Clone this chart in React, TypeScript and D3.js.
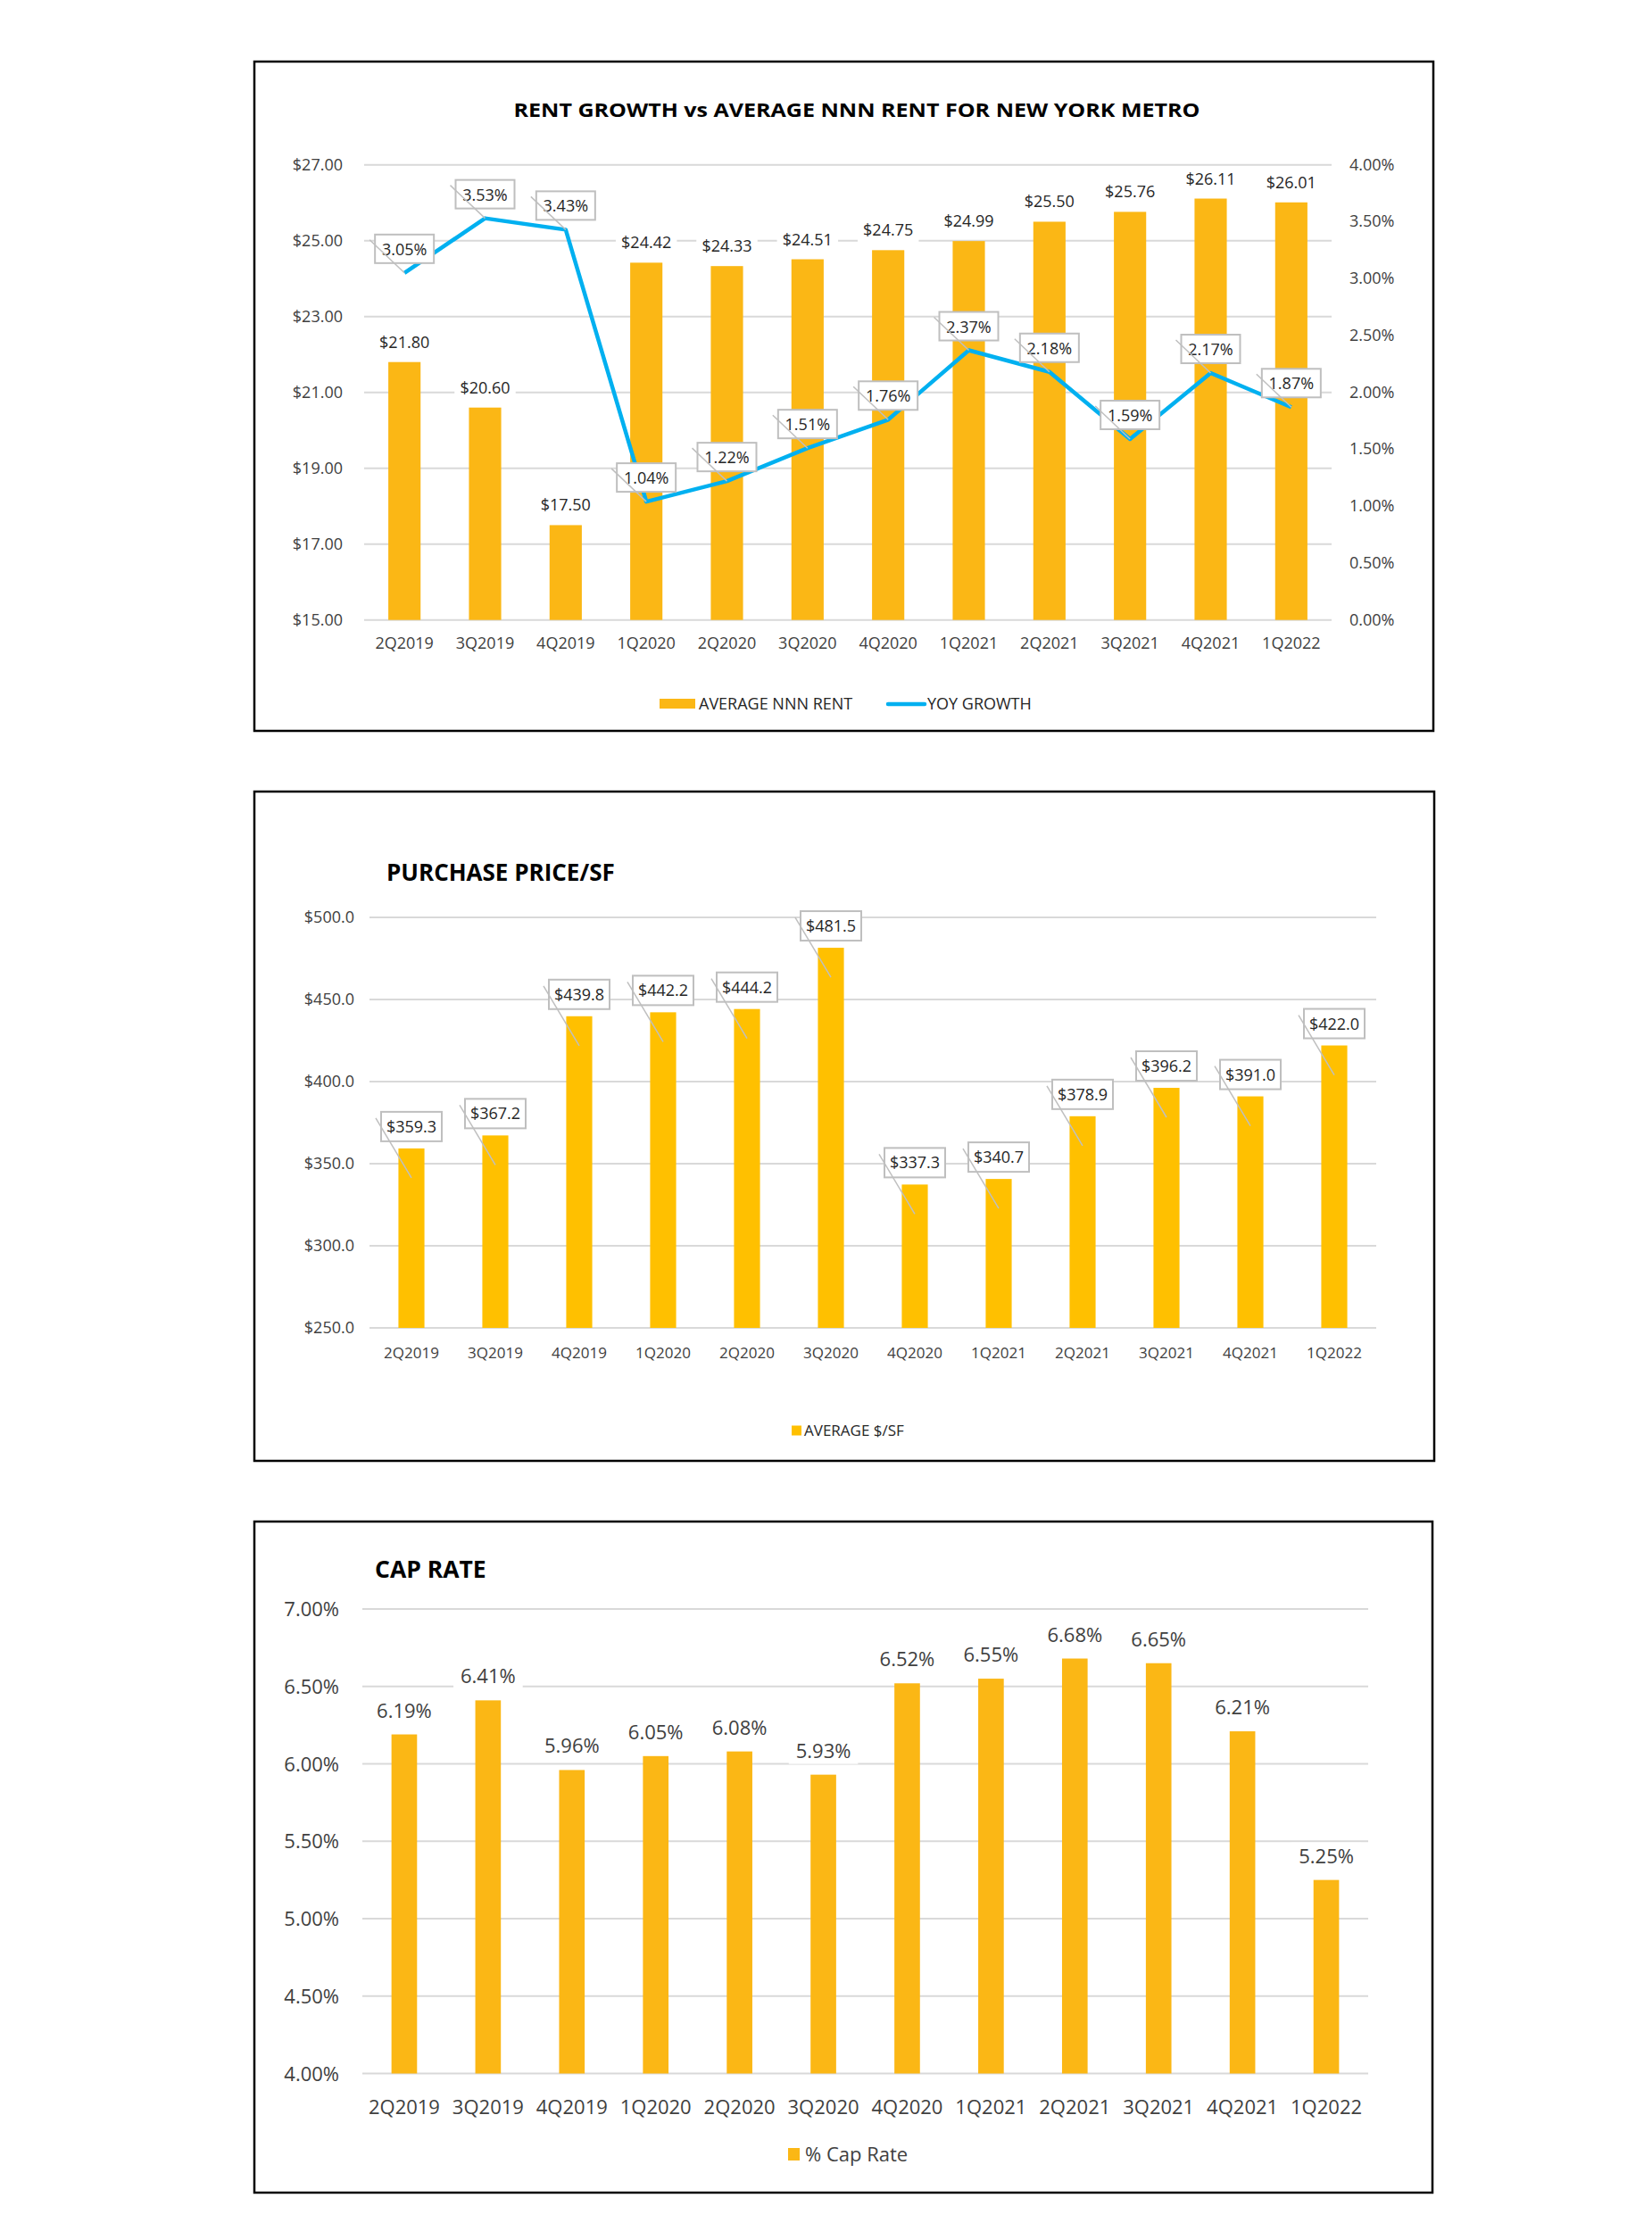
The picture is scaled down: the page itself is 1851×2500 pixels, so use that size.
import React from 'react'
import * as d3 from 'd3'

const quarters = ['2Q2019', '3Q2019', '4Q2019', '1Q2020', '2Q2020', '3Q2020', '4Q2020', '1Q2021', '2Q2021', '3Q2021', '4Q2021', '1Q2022']

const nnnRent = [21.8, 20.6, 17.5, 24.42, 24.33, 24.51, 24.75, 24.99, 25.5, 25.76, 26.11, 26.01]
const yoyGrowth = [3.05, 3.53, 3.43, 1.04, 1.22, 1.51, 1.76, 2.37, 2.18, 1.59, 2.17, 1.87]
const pricePerSf = [359.3, 367.2, 439.8, 442.2, 444.2, 481.5, 337.3, 340.7, 378.9, 396.2, 391.0, 422.0]
const capRate = [6.19, 6.41, 5.96, 6.05, 6.08, 5.93, 6.52, 6.55, 6.68, 6.65, 6.21, 5.25]

const rentTicks = [15, 17, 19, 21, 23, 25, 27]
const growthTicks = [0, 0.5, 1, 1.5, 2, 2.5, 3, 3.5, 4]
const priceTicks = [250, 300, 350, 400, 450, 500]
const capTicks = [4, 4.5, 5, 5.5, 6, 6.5, 7]

const FONT = '"Open Sans", "Noto Sans", sans-serif'
const GOLD = '#FBB715'
const YELLOW = '#FFC000'
const BLUE = '#00B0F0'
const GRID = '#D9D9D9'
const TICK = '#404040'
const LABEL = '#262626'
const BOX = '#BFBFBF'

// rough text width for the white label backgrounds
const textWidth = (s: string, size: number) => s.length * size * 0.56

const Frame = ({ x, y, w, h }: { x: number; y: number; w: number; h: number }) => (
  <rect x={x} y={y} width={w} height={h} fill="white" stroke="#000" strokeWidth={2.5} />
)

const RentChart = () => {
  const x = d3.scaleBand().domain(quarters).range([408, 1492]).paddingInner(0.6).paddingOuter(0.3)
  const yL = d3.scaleLinear().domain([15, 27]).range([694.7, 184.7])
  const yR = d3.scaleLinear().domain([0, 4]).range([694.7, 184.7])
  const cx = (q: string) => (x(q) as number) + x.bandwidth() / 2

  const line = d3.line<number>()
    .x((_, i) => cx(quarters[i]))
    .y(d => yR(d))

  return (
    <g>
      <Frame x={285} y={69} w={1321} h={750} />
      <text x={960} y={131} textAnchor="middle" fontSize={22} fontWeight="bold" fill="#000" textLength={769} lengthAdjust="spacingAndGlyphs">
        RENT GROWTH vs AVERAGE NNN RENT FOR NEW YORK METRO
      </text>
      {rentTicks.map(t => (
        <g key={t}>
          <line x1={408} x2={1492} y1={yL(t)} y2={yL(t)} stroke={GRID} strokeWidth={2} />
          <text x={384} y={yL(t) + 6} textAnchor="end" fontSize={18} fill={TICK}>{`$${t.toFixed(2)}`}</text>
        </g>
      ))}
      {growthTicks.map(t => (
        <text key={t} x={1512} y={yR(t) + 6} fontSize={18} fill={TICK}>{`${t.toFixed(2)}%`}</text>
      ))}
      {nnnRent.map((v, i) => (
        <rect key={i} x={x(quarters[i])} y={yL(v)} width={x.bandwidth()} height={yL(15) - yL(v)} fill={GOLD} />
      ))}
      {nnnRent.map((v, i) => {
        const s = `$${v.toFixed(2)}`
        const w = textWidth(s, 18) + 8
        return (
          <g key={i}>
            <rect x={cx(quarters[i]) - w / 2} y={yL(v) - 33} width={w} height={24} fill="white" />
            <text x={cx(quarters[i])} y={yL(v) - 16} textAnchor="middle" fontSize={18} fill={LABEL}>{s}</text>
          </g>
        )
      })}
      <path d={line(yoyGrowth) || ''} fill="none" stroke={BLUE} strokeWidth={4.5} strokeLinejoin="round" />
      {yoyGrowth.map((v, i) => {
        const px = cx(quarters[i])
        const py = yR(v)
        const bw = 66
        const bh = 32
        const bx = px - bw / 2
        const by = py - 27 - bh / 2
        return (
          <g key={i}>
            <rect x={bx} y={by} width={bw} height={bh} fill="white" stroke={BOX} strokeWidth={2} />
            <text x={px} y={by + 23} textAnchor="middle" fontSize={18} fill={LABEL}>{`${v.toFixed(2)}%`}</text>
            <line x1={bx - 6} y1={by + 6} x2={px} y2={py} stroke={BOX} strokeWidth={1.5} />
          </g>
        )
      })}
      {quarters.map(q => (
        <text key={q} x={cx(q)} y={727} textAnchor="middle" fontSize={18} fill={TICK}>{q}</text>
      ))}
      <rect x={739} y={783} width={40} height={11} fill={GOLD} />
      <text x={783} y={795} fontSize={18} fill={LABEL}>AVERAGE NNN RENT</text>
      <line x1={995} x2={1036} y1={789} y2={789} stroke={BLUE} strokeWidth={4.5} strokeLinecap="round" />
      <text x={1039} y={795} fontSize={18} fill={LABEL}>YOY GROWTH</text>
    </g>
  )
}

const PriceChart = () => {
  const x = d3.scaleBand().domain(quarters).range([414, 1542]).paddingInner(0.69).paddingOuter(0.345)
  const y = d3.scaleLinear().domain([250, 500]).range([1488, 1028])
  const cx = (q: string) => (x(q) as number) + x.bandwidth() / 2

  return (
    <g>
      <Frame x={285} y={887} w={1322} h={750} />
      <text x={433} y={987} fontSize={26} fontWeight="bold" fill="#000">PURCHASE PRICE/SF</text>
      {priceTicks.map(t => (
        <g key={t}>
          <line x1={414} x2={1542} y1={y(t)} y2={y(t)} stroke={GRID} strokeWidth={2} />
          <text x={397} y={y(t) + 6} textAnchor="end" fontSize={18} fill={TICK}>{`$${t.toFixed(1)}`}</text>
        </g>
      ))}
      {pricePerSf.map((v, i) => (
        <rect key={i} x={x(quarters[i])} y={y(v)} width={x.bandwidth()} height={y(250) - y(v)} fill={YELLOW} />
      ))}
      {pricePerSf.map((v, i) => {
        const px = cx(quarters[i])
        const top = y(v)
        const bw = 68
        const bh = 33
        const bx = px - bw / 2
        const by = top - 8 - bh
        return (
          <g key={i}>
            <rect x={bx} y={by} width={bw} height={bh} fill="white" stroke={BOX} strokeWidth={2} />
            <text x={px} y={by + 23} textAnchor="middle" fontSize={18} fill={LABEL}>{`$${v.toFixed(1)}`}</text>
            <line x1={bx - 6} y1={by + 7} x2={px} y2={top + 33} stroke={BOX} strokeWidth={1.5} />
          </g>
        )
      })}
      {quarters.map(q => (
        <text key={q} x={cx(q)} y={1522} textAnchor="middle" fontSize={17} fill={TICK}>{q}</text>
      ))}
      <rect x={887} y={1597.5} width={11} height={11} fill={YELLOW} />
      <text x={901} y={1609} fontSize={17} fill={LABEL}>AVERAGE $/SF</text>
    </g>
  )
}

const CapChart = () => {
  const x = d3.scaleBand().domain(quarters).range([406, 1533]).paddingInner(0.695).paddingOuter(0.3475)
  const y = d3.scaleLinear().domain([4, 7]).range([2323.5, 1803])
  const cx = (q: string) => (x(q) as number) + x.bandwidth() / 2

  return (
    <g>
      <Frame x={285} y={1705} w={1320} h={752} />
      <text x={420} y={1768} fontSize={26.5} fontWeight="bold" fill="#000">CAP RATE</text>
      {capTicks.map(t => (
        <g key={t}>
          <line x1={406} x2={1533} y1={y(t)} y2={y(t)} stroke={GRID} strokeWidth={2} />
          <text x={380} y={y(t) + 8} textAnchor="end" fontSize={22} fill={TICK}>{`${t.toFixed(2)}%`}</text>
        </g>
      ))}
      {capRate.map((v, i) => (
        <rect key={i} x={x(quarters[i])} y={y(v)} width={x.bandwidth()} height={y(4) - y(v)} fill={GOLD} />
      ))}
      {capRate.map((v, i) => {
        const s = `${v.toFixed(2)}%`
        const w = textWidth(s, 22) + 16
        return (
          <g key={i}>
            <rect x={cx(quarters[i]) - w / 2} y={y(v) - 42} width={w} height={30} fill="white" />
            <text x={cx(quarters[i])} y={y(v) - 19} textAnchor="middle" fontSize={22} fill={TICK}>{s}</text>
          </g>
        )
      })}
      {quarters.map(q => (
        <text key={q} x={cx(q)} y={2369} textAnchor="middle" fontSize={22} fill={TICK}>{q}</text>
      ))}
      <rect x={883} y={2407} width={13} height={14} fill={GOLD} />
      <text x={902} y={2422} fontSize={22} fill={TICK}>% Cap Rate</text>
    </g>
  )
}

export default function App() {
  return (
    <svg
      width={1851}
      height={2500}
      style={{ position: 'absolute', left: 0, top: 0, background: 'white' }}
      fontFamily={FONT}
    >
      <rect x={0} y={0} width={1851} height={2500} fill="white" />
      <RentChart />
      <PriceChart />
      <CapChart />
    </svg>
  )
}
